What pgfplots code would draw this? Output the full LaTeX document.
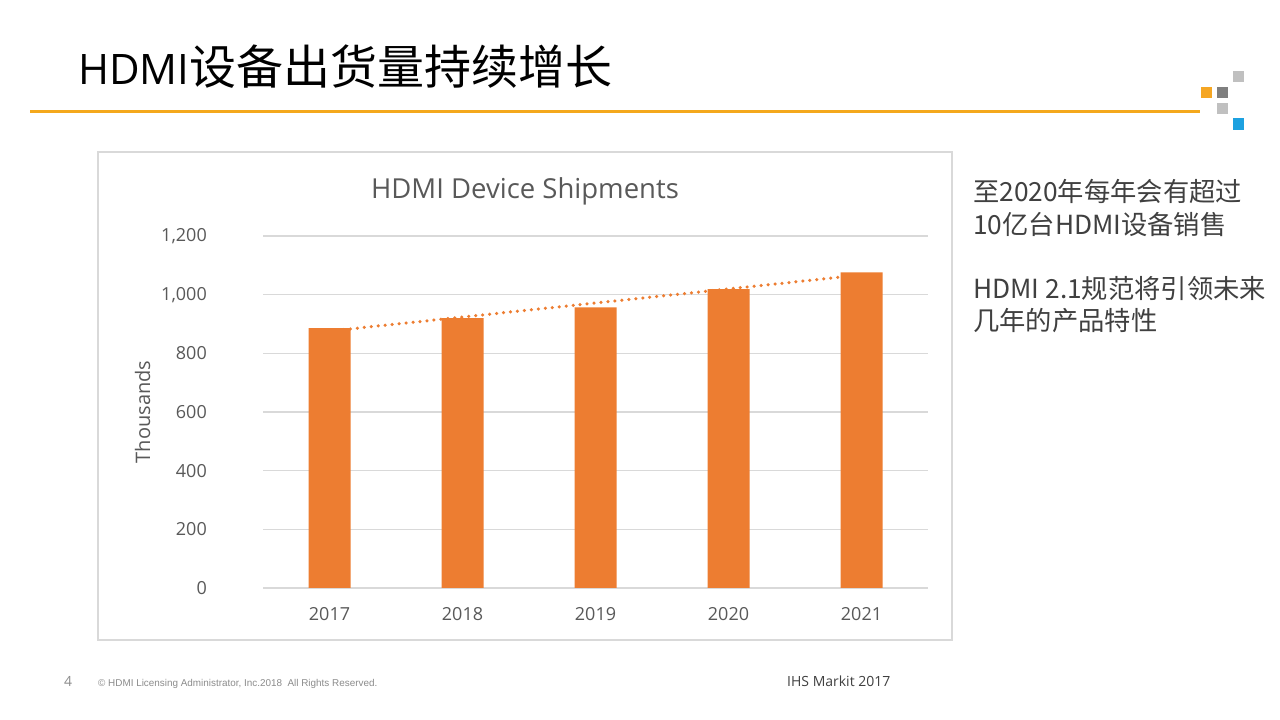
\documentclass[border=0pt]{standalone}
\usepackage{pgfplots}
\pgfplotsset{compat=1.18}
\usepackage{fontspec}
\setmainfont{Open Sans}
\newfontfamily\cjk{Noto Sans CJK SC}
\newfontfamily\arialf{Liberation Sans}
\definecolor{barorange}{HTML}{ED7D31}
\definecolor{gridgray}{HTML}{D9D9D9}
\definecolor{txtgray}{HTML}{595959}
\definecolor{darktxt}{HTML}{404040}
\definecolor{foottxt}{HTML}{8C8C8C}
\definecolor{linegold}{HTML}{F4A81D}
\definecolor{logoorange}{HTML}{F5A623}
\definecolor{logodark}{HTML}{7F7F7F}
\definecolor{logolight}{HTML}{C0C0C0}
\definecolor{logoblue}{HTML}{1DA1E0}
\begin{document}
\begin{tikzpicture}[x=1pt,y=1pt]
\useasboundingbox (0,0) rectangle (1280,720);
\fill[white] (0,0) rectangle (1280,720);
% slide title
\node[anchor=base west, inner sep=0pt, text=black] at (78,635)
  {{\fontsize{42}{48}\selectfont HDMI}{\fontsize{47}{52}\selectfont\cjk 设备出货量持续增长}};
\draw[linegold, line width=3pt] (30,608) -- (1200,608);
% logo
\fill[logoorange] (1201,622) rectangle (1212,633);
\fill[logodark] (1217,622) rectangle (1228,633);
\fill[logolight] (1233,638) rectangle (1244,649);
\fill[logolight] (1217,606) rectangle (1228,617);
\fill[logoblue] (1233,590) rectangle (1244,602);
% chart frame
\draw[gridgray, line width=1.3pt] (98,80) rectangle (952,568);
\node[anchor=base, inner sep=0pt, text=txtgray] at (525,521)
  {\fontsize{27.5}{30}\selectfont HDMI Device Shipments};
\node[anchor=base, inner sep=0pt, rotate=90, text=txtgray] at (150,308)
  {\fontsize{20}{24}\selectfont Thousands};
\begin{axis}[
  at={(263pt,132pt)}, anchor=south west,
  scale only axis, width=665pt, height=352pt,
  xmin=-0.5, xmax=4.5, ymin=0, ymax=1200,
  ytick={0,200,...,1200},
  xtick={0,1,2,3,4},
  xticklabels={2017,2018,2019,2020,2021},
  axis line style={draw=none},
  major tick length=0pt,
  ymajorgrids,
  grid style={gridgray, line width=1.3pt},
  tick label style={font=\fontsize{18}{20}\selectfont, text=txtgray, inner sep=0pt},
  xticklabel shift=19pt,
  yticklabel shift=56pt,
  scaled y ticks=false,
  /pgf/number format/assume math mode=true,
  y tick label style={/pgf/number format/.cd, fixed, 1000 sep={,}},
  clip=false,
]
\addplot[ybar, bar width=42pt, bar shift=0pt, fill=barorange, draw=none]
  coordinates {(0,886) (1,920) (2,957) (3,1019) (4,1076)};
\addplot[barorange, line width=3.5pt, line cap=round, dash pattern=on 0pt off 7pt, mark=none]
  coordinates {(0,875.8) (4,1067.4)};
\end{axis}
% right-hand text
\begin{scope}[every node/.style={anchor=base west, inner sep=0pt, text=darktxt}]
\node at (973,518) {\cjk\fontsize{26.3}{30}\selectfont 至2020年每年会有超过};
\node at (973,485) {\cjk\fontsize{26.3}{30}\selectfont 10亿台HDMI设备销售};
\node at (973,421) {\cjk\fontsize{26.3}{30}\selectfont HDMI 2.1规范将引领未来};
\node at (973,389) {\cjk\fontsize{26.3}{30}\selectfont 几年的产品特性};
\end{scope}
% footer
\node[anchor=base west, inner sep=0pt, text=foottxt] at (64,33) {\fontsize{14}{16}\selectfont 4};
\node[anchor=base west, inner sep=0pt, text=foottxt] at (98,33) {\arialf\fontsize{9.9}{11}\selectfont \textcopyright\ HDMI Licensing Administrator, Inc.2018\ \ All Rights Reserved.};
\node[anchor=base west, inner sep=0pt, text=darktxt] at (787,33) {\fontsize{14}{16}\selectfont IHS Markit 2017};
\end{tikzpicture}
\end{document}
